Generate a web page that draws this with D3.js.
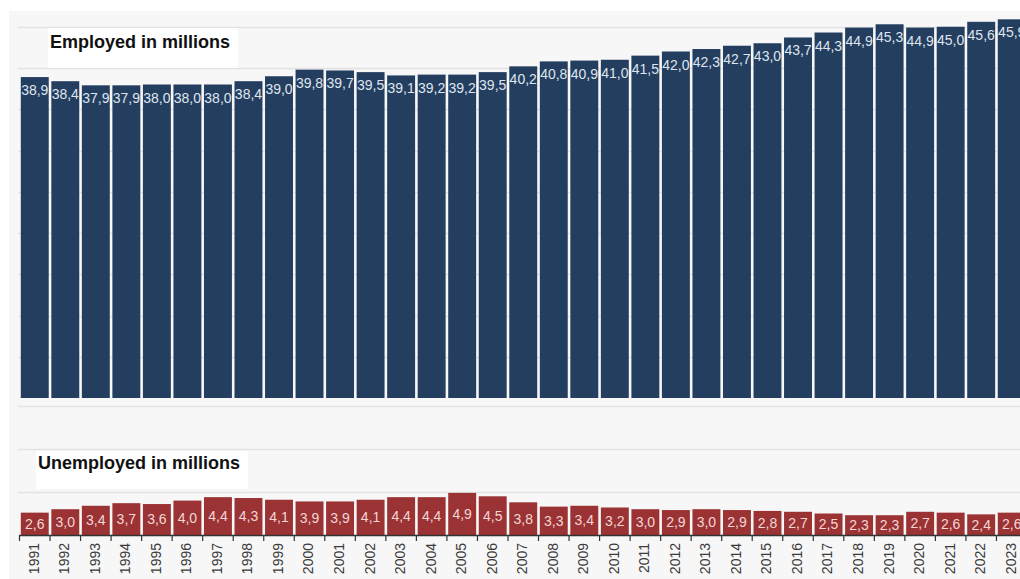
<!DOCTYPE html>
<html>
<head>
<meta charset="utf-8">
<script src="https://cdn.jsdelivr.net/npm/d3@7"></script>
<style>
  body { margin: 0; background: #fff; }
  svg { display: block; font-family: "Liberation Sans", Arial, sans-serif; }
</style>
</head>
<body>
<svg id="chart" width="1020" height="579"></svg>
<script>
// datos
var years = [1991, 1992, 1993, 1994, 1995, 1996, 1997, 1998, 1999, 2000, 2001, 2002, 2003, 2004, 2005, 2006, 2007, 2008, 2009, 2010, 2011, 2012, 2013, 2014, 2015, 2016, 2017, 2018, 2019, 2020, 2021, 2022, 2023];
var employed = [38.9, 38.4, 37.9, 37.9, 38.0, 38.0, 38.0, 38.4, 39.0, 39.8, 39.7, 39.5, 39.1, 39.2, 39.2, 39.5, 40.2, 40.8, 40.9, 41.0, 41.5, 42.0, 42.3, 42.7, 43.0, 43.7, 44.3, 44.9, 45.3, 44.9, 45.0, 45.6, 45.9];
var unemployed = [2.6, 3.0, 3.4, 3.7, 3.6, 4.0, 4.4, 4.3, 4.1, 3.9, 3.9, 4.1, 4.4, 4.4, 4.9, 4.5, 3.8, 3.3, 3.4, 3.2, 3.0, 2.9, 3.0, 2.9, 2.8, 2.7, 2.5, 2.3, 2.3, 2.7, 2.6, 2.4, 2.6];
var employedTicks = [5, 10, 15, 20, 25, 30, 35, 40, 45];
var unemployedTicks = [5, 10, 15];
var titles = ["Employed in millions", "Unemployed in millions"];

var svg = d3.select("#chart");
var fmt = function(v) { return d3.format(".1f")(v).replace(".", ","); };

// fondo del area
svg.append("rect")
  .attr("x", 9).attr("y", 11)
  .attr("width", 1011).attr("height", 568)
  .attr("fill", "#f7f7f7");

var x = d3.scaleBand()
  .domain(years)
  .range([19.5, 19.5 + years.length * 30.53])
  .paddingInner(0.085)
  .paddingOuter(0.0425);

var yTop = d3.scaleLinear().domain([0, 45]).range([398, 26.75]);
var yBot = d3.scaleLinear().domain([0, 15]).range([535, 406]);

// lineas de la grilla
function grid(scale, ticks) {
  svg.append("g").selectAll("line")
    .data(ticks)
    .enter().append("line")
    .attr("x1", 18).attr("x2", 1020)
    .attr("y1", d => Math.round(scale(d)) + 0.5)
    .attr("y2", d => Math.round(scale(d)) + 0.5)
    .attr("stroke", "#e2e2e2")
    .attr("stroke-width", 1.5);
}
grid(yTop, employedTicks);
grid(yBot, unemployedTicks);

// cajas blancas de titulo
function titleBox(txt, bx, by, bw, bh, tx, ty) {
  svg.append("rect")
    .attr("x", bx).attr("y", by)
    .attr("width", bw).attr("height", bh)
    .attr("fill", "#fff");
  svg.append("text")
    .attr("x", tx).attr("y", ty)
    .attr("font-size", 18)
    .attr("font-weight", "bold")
    .attr("fill", "#111")
    .text(txt);
}
titleBox(titles[0], 48, 28, 190, 40, 50, 48);
titleBox(titles[1], 36, 451, 212, 38, 38, 469);

// barras ocupados
svg.append("g").selectAll("rect")
  .data(employed)
  .enter().append("rect")
  .attr("x", (d, i) => x(years[i]))
  .attr("y", d => yTop(d))
  .attr("width", x.bandwidth())
  .attr("height", d => yTop(0) - yTop(d))
  .attr("fill", "#243e60");

svg.append("g").selectAll("text")
  .data(employed)
  .enter().append("text")
  .attr("x", (d, i) => x(years[i]) + x.bandwidth() / 2)
  .attr("y", d => yTop(d) + 18)
  .attr("text-anchor", "middle")
  .attr("font-size", 14)
  .attr("fill", "#dfe5ee")
  .text(d => fmt(d));

// barras desocupados
svg.append("g").selectAll("rect")
  .data(unemployed)
  .enter().append("rect")
  .attr("x", (d, i) => x(years[i]))
  .attr("y", d => yBot(d))
  .attr("width", x.bandwidth())
  .attr("height", d => yBot(0) - yBot(d))
  .attr("fill", "#9b3334");

svg.append("g").selectAll("text")
  .data(unemployed)
  .enter().append("text")
  .attr("x", (d, i) => x(years[i]) + x.bandwidth() / 2)
  .attr("y", d => (yBot(d) + yBot(0)) / 2)
  .attr("dy", "0.35em")
  .attr("text-anchor", "middle")
  .attr("font-size", 14)
  .attr("fill", "#f3d6d6")
  .text(d => fmt(d));

// eje x
var step = x.step();
var axis = svg.append("g");
axis.append("line")
  .attr("x1", 19).attr("x2", 1020)
  .attr("y1", 535.5).attr("y2", 535.5)
  .attr("stroke", "#333").attr("stroke-width", 1.5);

axis.selectAll("line.tick")
  .data(years)
  .enter().append("line")
  .attr("class", "tick")
  .attr("x1", d => x(d) - x.paddingInner() * step / 2)
  .attr("x2", d => x(d) - x.paddingInner() * step / 2)
  .attr("y1", 535).attr("y2", 541)
  .attr("stroke", "#333").attr("stroke-width", 1.2);

axis.selectAll("text")
  .data(years)
  .enter().append("text")
  .attr("transform", d => "translate(" + (x(d) + x.bandwidth() / 2 - 1) + ",543) rotate(-90)")
  .attr("dy", "0.35em")
  .attr("text-anchor", "end")
  .attr("font-size", 14)
  .attr("fill", "#3a3a3a")
  .text(d => d);
</script>
</body>
</html>
